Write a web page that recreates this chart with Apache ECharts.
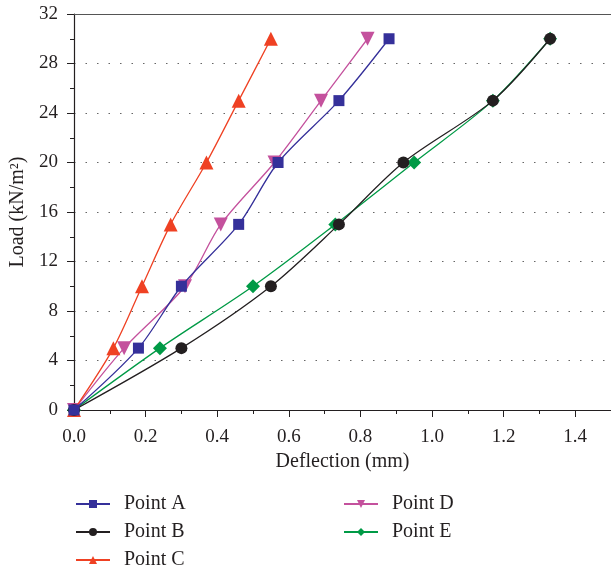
<!DOCTYPE html>
<html><head><meta charset="utf-8">
<script src="https://cdn.jsdelivr.net/npm/echarts@6/dist/echarts.min.js"></script>
<style>html,body{margin:0;padding:0;background:#fff}#c{width:611px;height:571px}</style>
</head><body><div id="c"></div>
<script>
var loads = [0, 5, 10, 15, 20, 25, 30];
var defA = [0, 0.18, 0.30, 0.46, 0.57, 0.74, 0.88];
var defB = [0, 0.30, 0.55, 0.74, 0.92, 1.17, 1.33];
var defC = [0, 0.11, 0.19, 0.27, 0.37, 0.46, 0.55];
var defD = [0, 0.14, 0.31, 0.41, 0.56, 0.69, 0.82];
var defE = [0, 0.24, 0.50, 0.73, 0.95, 1.17, 1.33];
var names = ['Point A', 'Point B', 'Point C', 'Point D', 'Point E'];
var colors = ['#35309a', '#231f20', '#ef4123', '#c4519d', '#009a46'];
var symbols = ['rect', 'circle', 'triangle', 'path://M0,0 L10,0 L5,9 Z', 'diamond'];
var sizes = [11, 12, 14, 14, 14];
var defs = [defA, defB, defC, defD, defE];
var FONT = '"Liberation Serif", "DejaVu Serif", serif';

function pairs(d) { return d.map(function (x, i) { return [x, loads[i]]; }); }

var series = names.map(function (n, i) {
  return {
    name: n, type: 'line', smooth: 0.3,
    data: pairs(defs[i]),
    symbol: symbols[i], symbolSize: sizes[i],
    itemStyle: { color: colors[i] },
    lineStyle: { color: colors[i], width: 1.3 },
    z: 10 - i
  };
});

var legendText = { fontFamily: FONT, fontSize: 20, color: '#231f20', lineHeight: 20, padding: [0, 0, 0, 9] };

var chart = echarts.init(document.getElementById('c'));
chart.setOption({
  animation: false,
  backgroundColor: '#fff',
  grid: { left: 74, top: 14, right: 0, bottom: 161 },
  xAxis: [{
    type: 'value', min: 0, max: 1.5, interval: 0.2,
    name: 'Deflection (mm)', nameLocation: 'middle', nameGap: 35,
    nameTextStyle: { fontFamily: FONT, fontSize: 20, color: '#231f20' },
    axisLine: { lineStyle: { color: '#231f20', width: 1.2 } },
    axisTick: { inside: false, length: 7, lineStyle: { color: '#231f20' } },
    minorTick: { show: true, splitNumber: 2, length: 4, lineStyle: { color: '#231f20' } },
    axisLabel: { fontFamily: FONT, fontSize: 19, color: '#231f20', margin: 18, showMaxLabel: false,
      formatter: function (v) { return v.toFixed(1); } },
    splitLine: { show: false }
  }, {
    type: 'value', min: 0, max: 1.5, position: 'top',
    axisLine: { show: true, lineStyle: { color: '#555', width: 1.2 } },
    axisTick: { show: false }, axisLabel: { show: false }, splitLine: { show: false }
  }],
  yAxis: {
    type: 'value', min: 0, max: 32, interval: 4,
    name: 'Load (kN/m²)', nameLocation: 'middle', nameGap: 45,
    nameTextStyle: { fontFamily: FONT, fontSize: 20, color: '#231f20' },
    axisLine: { show: true, lineStyle: { color: '#231f20', width: 1.2 } },
    axisTick: { show: true, length: 7, lineStyle: { color: '#231f20' } },
    minorTick: { show: true, splitNumber: 2, length: 4, lineStyle: { color: '#231f20' } },
    axisLabel: { fontFamily: FONT, fontSize: 19, color: '#231f20', margin: 16 },
    splitLine: { show: true, lineStyle: { type: [1.5, 10], color: '#666', width: 1.2 } }
  },
  legend: [{
    data: ['Point A', 'Point B', 'Point C'], orient: 'vertical', left: 75, top: 494, padding: 0,
    itemGap: 8, itemWidth: 34, itemHeight: 10, textStyle: legendText
  }, {
    data: ['Point D', 'Point E'], orient: 'vertical', left: 343, top: 494, padding: 0,
    itemGap: 8, itemWidth: 34, itemHeight: 10, textStyle: legendText
  }],
  series: series
});
</script></body></html>
